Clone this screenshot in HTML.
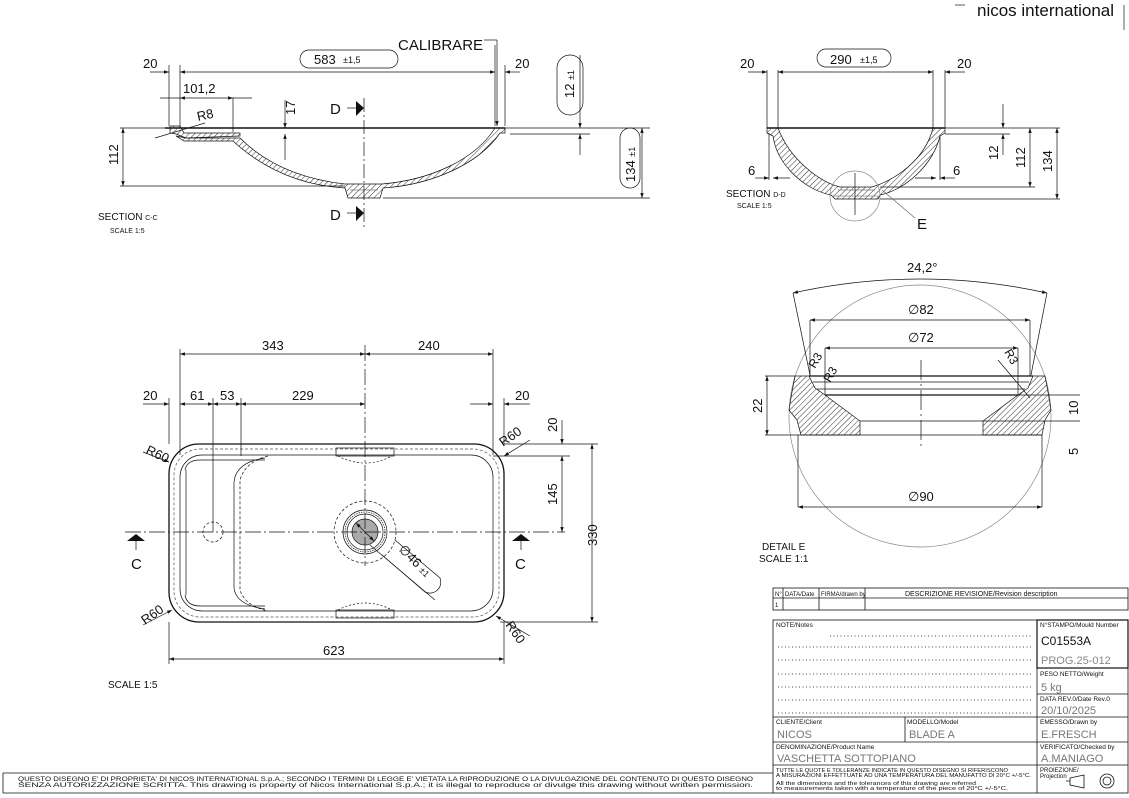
<!DOCTYPE html>
<html><head><meta charset="utf-8"><style>
html,body{margin:0;padding:0;background:#fff}
svg{display:block}
text{font-family:"Liberation Sans",sans-serif;fill:#111}
.m{font-family:"Liberation Mono",monospace;fill:#444}
</style></head><body>
<svg width="1129" height="798" viewBox="0 0 1129 798" xmlns="http://www.w3.org/2000/svg">
<defs>
<pattern id="h" width="4" height="4" patternUnits="userSpaceOnUse" patternTransform="rotate(45)"><line x1="0" y1="0" x2="0" y2="4" stroke="#333" stroke-width="1"/></pattern>
<marker id="a" viewBox="0 0 10 10" refX="10" refY="5" markerWidth="9" markerHeight="7" orient="auto-start-reverse"><path d="M0,1.5L10,5L0,8.5z" fill="#111"/></marker>
</defs>
<g stroke="#111" fill="none" stroke-width="0.8">
<line x1="955" y1="5" x2="965" y2="5" stroke="#333"/>
<line x1="1124" y1="5" x2="1124" y2="30" stroke="#333"/>
</g>
<text x="977" y="16" font-size="17" font-weight="bold" style="font-weight:500">nicos international</text>

<!-- ============ SECTION C-C ============ -->
<g stroke="#111" stroke-width="0.7" fill="none">
<line x1="165" y1="128" x2="505" y2="128" stroke-width="1.4"/>
<path d="M170,126 L180,126 L184,133 L240,133 L240,136 L186,138 L176,134 L170,133 Z" fill="url(#h)"/>
<path d="M176,136 L184,141 L233,141 C270,175 310,186 345,188 L348,198 L380,198 L383,188 C430,185 478,165 500,133 L505,133 L505,128 L495,128 C475,160 430,180 382,184 L345,184 C310,180 270,168 240,138 L186,138 Z" fill="url(#h)"/>
<line x1="350" y1="190" x2="378" y2="190" stroke="#777"/>
<line x1="169" y1="65" x2="169" y2="126"/><line x1="180" y1="65" x2="180" y2="126"/>
<line x1="495" y1="45" x2="495" y2="126"/><line x1="505" y1="65" x2="505" y2="126"/>
<line x1="150" y1="72" x2="169" y2="72" marker-end="url(#a)"/>
<line x1="180" y1="72" x2="495" y2="72" marker-start="url(#a)" marker-end="url(#a)"/>
<line x1="520" y1="72" x2="505" y2="72" marker-end="url(#a)"/>
<line x1="160" y1="98" x2="180" y2="98" /><line x1="180" y1="98" x2="233" y2="98" marker-start="url(#a)" marker-end="url(#a)"/><line x1="233" y1="98" x2="252" y2="98"/>
<line x1="233" y1="98" x2="233" y2="132"/>
<line x1="484" y1="40" x2="497" y2="40"/><line x1="497" y1="40" x2="497" y2="126" marker-end="url(#a)"/>
<line x1="285" y1="100" x2="285" y2="128" marker-end="url(#a)"/><line x1="285" y1="160" x2="285" y2="134" marker-end="url(#a)"/>
<line x1="120" y1="128" x2="165" y2="128"/><line x1="120" y1="186" x2="345" y2="186"/>
<line x1="123" y1="128" x2="123" y2="186" marker-start="url(#a)" marker-end="url(#a)"/>
<line x1="510" y1="134" x2="590" y2="134"/><line x1="383" y1="198" x2="650" y2="198"/><line x1="505" y1="128" x2="650" y2="128"/>
<line x1="580" y1="55" x2="580" y2="128" marker-end="url(#a)"/><line x1="580" y1="155" x2="580" y2="134" marker-end="url(#a)"/>
<line x1="642" y1="128" x2="642" y2="198" marker-start="url(#a)" marker-end="url(#a)"/>
<line x1="155" y1="138" x2="205" y2="123"/>
<line x1="364" y1="98" x2="364" y2="228" stroke-dasharray="14,3,2,3"/>
<rect x="300" y="50" width="98" height="18" rx="9"/>
<rect x="557" y="55" width="26" height="60" rx="13"/>
<rect x="620" y="128" width="20" height="60" rx="10"/>
</g>
<path d="M356,101 L364,108 L356,116Z M356,206 L364,213 L356,221Z" fill="#111"/>
<line x1="347" y1="108" x2="356" y2="108" stroke="#111" stroke-width="0.7"/><line x1="347" y1="213" x2="356" y2="213" stroke="#111" stroke-width="0.7"/>
<text x="398" y="50" font-size="15">CALIBRARE</text>
<text x="143" y="68" font-size="13">20</text><text x="515" y="68" font-size="13">20</text>
<text x="314" y="64" font-size="13">583</text><text x="343" y="63" font-size="9">±1,5</text>
<text x="183" y="93" font-size="13">101,2</text>
<text x="198" y="121" font-size="13" transform="rotate(-12 198 121)">R8</text>
<text x="295" y="115" font-size="13" transform="rotate(-90 295 115)">17</text>
<text x="330" y="114" font-size="15">D</text><text x="330" y="220" font-size="15">D</text>
<text x="118" y="165" font-size="13" transform="rotate(-90 118 165)">112</text>
<text x="574" y="98" font-size="13" transform="rotate(-90 574 98)">12 <tspan font-size="9">±1</tspan></text>
<text x="635" y="182" font-size="13" transform="rotate(-90 635 182)">134 <tspan font-size="9">±1</tspan></text>
<text x="98" y="220" font-size="10">SECTION <tspan font-size="7">C-C</tspan></text>
<text x="110" y="233" font-size="7">SCALE 1:5</text>

<!-- ============ SECTION D-D ============ -->
<g stroke="#111" stroke-width="0.7" fill="none">
<line x1="767" y1="128" x2="945" y2="128" stroke-width="1.4"/>
<path d="M767,128 L778,128 C790,160 820,182 840,187 L872,187 C895,180 925,160 933,128 L945,128 L945,133 L940,136 C933,165 905,190 880,195 L878,199 L835,199 L831,195 C805,190 777,165 773,136 L767,133 Z" fill="url(#h)"/>
<line x1="838" y1="190" x2="875" y2="190" stroke="#777"/>
<line x1="767" y1="70" x2="767" y2="128"/><line x1="778" y1="70" x2="778" y2="128"/><line x1="933" y1="70" x2="933" y2="128"/><line x1="945" y1="70" x2="945" y2="128"/>
<line x1="748" y1="72" x2="767" y2="72" marker-end="url(#a)"/><line x1="778" y1="72" x2="933" y2="72" marker-start="url(#a)" marker-end="url(#a)"/><line x1="965" y1="72" x2="945" y2="72" marker-end="url(#a)"/>
<rect x="817" y="49" width="74" height="18" rx="9"/>
<line x1="769" y1="133" x2="769" y2="180"/><line x1="940" y1="136" x2="940" y2="180"/>
<line x1="755" y1="178" x2="769" y2="178" marker-end="url(#a)"/><line x1="790" y1="178" x2="773" y2="178" marker-end="url(#a)"/>
<line x1="955" y1="178" x2="940" y2="178" marker-end="url(#a)"/><line x1="915" y1="178" x2="936" y2="178" marker-end="url(#a)"/>
<line x1="945" y1="128" x2="1060" y2="128"/><line x1="945" y1="134" x2="1010" y2="134"/><line x1="880" y1="187" x2="1035" y2="187"/><line x1="880" y1="199" x2="1060" y2="199"/>
<line x1="1003" y1="104" x2="1003" y2="128" marker-end="url(#a)"/><line x1="1003" y1="155" x2="1003" y2="134" marker-end="url(#a)"/>
<line x1="1030" y1="128" x2="1030" y2="187" marker-start="url(#a)" marker-end="url(#a)"/>
<line x1="1057" y1="128" x2="1057" y2="199" marker-start="url(#a)" marker-end="url(#a)"/>
<circle cx="855" cy="196" r="25" stroke="#888"/>
<line x1="855" y1="173" x2="855" y2="215"/><line x1="832" y1="196" x2="878" y2="196" stroke="#888"/>
<line x1="882" y1="190" x2="915" y2="218" stroke="#666"/>
</g>
<text x="740" y="68" font-size="13">20</text><text x="957" y="68" font-size="13">20</text>
<text x="830" y="64" font-size="13">290</text><text x="860" y="63" font-size="9">±1,5</text>
<text x="748" y="175" font-size="13">6</text><text x="953" y="175" font-size="13">6</text>
<text x="998" y="160" font-size="13" transform="rotate(-90 998 160)">12</text>
<text x="1025" y="168" font-size="13" transform="rotate(-90 1025 168)">112</text>
<text x="1052" y="172" font-size="13" transform="rotate(-90 1052 172)">134</text>
<text x="726" y="197" font-size="10">SECTION <tspan font-size="7">D-D</tspan></text>
<text x="737" y="208" font-size="7">SCALE 1:5</text>
<text x="917" y="229" font-size="15">E</text>

<!-- ============ DETAIL E ============ -->
<g stroke="#111" stroke-width="0.7" fill="none">
<circle cx="920" cy="416" r="131" stroke="#888"/>
<path d="M795,376 L809,376 L815,388 L825,395 L860,421 L860,435 L801,435 L797,420 L789,410 L792,392 Z" fill="url(#h)"/>
<path d="M1045,376 L1033,376 L1028,388 L1018,395 L983,421 L983,435 L1042,435 L1045,420 L1051,410 L1048,392 Z" fill="url(#h)"/>
<line x1="809" y1="376" x2="1033" y2="376" stroke-width="1.2"/>
<line x1="813" y1="382" x2="1029" y2="382"/><line x1="817" y1="389" x2="1025" y2="389"/>
<line x1="825" y1="395" x2="1018" y2="395" stroke-width="1.2"/>
<line x1="860" y1="421" x2="983" y2="421"/><line x1="801" y1="435" x2="1042" y2="435"/>
<line x1="921" y1="360" x2="921" y2="450" stroke-dasharray="20,4,2,4"/>
<path d="M793,293 Q920,265 1047,293" marker-start="url(#a)" marker-end="url(#a)"/>
<line x1="793" y1="293" x2="810" y2="375"/><line x1="1047" y1="293" x2="1031" y2="375"/>
<line x1="810" y1="320" x2="1030" y2="320" marker-start="url(#a)" marker-end="url(#a)"/>
<line x1="810" y1="320" x2="810" y2="376"/><line x1="1030" y1="320" x2="1030" y2="376"/>
<line x1="825" y1="348" x2="1018" y2="348" marker-start="url(#a)" marker-end="url(#a)"/>
<line x1="825" y1="348" x2="825" y2="395"/><line x1="1018" y1="348" x2="1018" y2="395"/>
<line x1="798" y1="507" x2="1042" y2="507" marker-start="url(#a)" marker-end="url(#a)"/>
<line x1="798" y1="435" x2="798" y2="507"/><line x1="1042" y1="435" x2="1042" y2="507"/>
<line x1="765" y1="376" x2="795" y2="376"/><line x1="765" y1="435" x2="801" y2="435"/>
<line x1="767" y1="376" x2="767" y2="435" marker-start="url(#a)" marker-end="url(#a)"/>
<line x1="1018" y1="395" x2="1080" y2="395"/><line x1="983" y1="421" x2="1080" y2="421"/>
<line x1="998" y1="360" x2="1030" y2="398"/>
</g>
<text x="907" y="272" font-size="13">24,2°</text>
<text x="908" y="314" font-size="13">∅82</text><text x="908" y="342" font-size="13">∅72</text>
<text x="908" y="501" font-size="13">∅90</text>
<text x="815" y="369" font-size="12" transform="rotate(-60 815 369)">R3</text>
<text x="830" y="383" font-size="12" transform="rotate(-60 830 383)">R3</text>
<text x="1004" y="352" font-size="12" transform="rotate(60 1004 352)">R3</text>
<text x="762" y="413" font-size="13" transform="rotate(-90 762 413)">22</text>
<text x="1078" y="415" font-size="13" transform="rotate(-90 1078 415)">10</text>
<text x="1078" y="455" font-size="13" transform="rotate(-90 1078 455)">5</text>
<text x="762" y="550" font-size="10">DETAIL E</text><text x="759" y="562" font-size="10">SCALE 1:1</text>

<!-- ============ PLAN ============ -->
<g stroke="#111" stroke-width="0.7" fill="none">
<rect x="169" y="444" width="335" height="178" rx="30" stroke-width="1.3"/>
<rect x="174" y="449" width="325" height="168" rx="26" stroke-dasharray="3,2" stroke="#555"/>
<rect x="180" y="455" width="313" height="156" rx="22"/>
<path d="M268,456 Q245,462 240,480 L240,590 Q245,606 268,611" stroke-dasharray="3,2"/>
<path d="M265,458 Q236,462 234,482 L234,588 Q236,605 265,609"/>
<path d="M185,470 Q187,460 200,460 L265,460"/><path d="M185,595 Q187,606 200,606 L265,606"/>
<line x1="186" y1="470" x2="186" y2="595"/>
<rect x="336" y="448" width="58" height="8"/><rect x="336" y="610" width="58" height="8"/>
<path d="M338,456 Q365,470 392,456" stroke-dasharray="2,2"/><path d="M338,610 Q365,596 392,610" stroke-dasharray="2,2"/>
<circle cx="213" cy="532" r="10" stroke-dasharray="3,2"/>
<circle cx="365" cy="532" r="31" stroke-dasharray="3,2"/>
<circle cx="365" cy="532" r="22"/><circle cx="365" cy="532" r="20" stroke-dasharray="1.5,1"/><circle cx="365" cy="532" r="18"/>
<circle cx="365" cy="532" r="13" fill="#aaa"/>
<line x1="356" y1="523" x2="374" y2="541" marker-start="url(#a)" marker-end="url(#a)"/>
<line x1="370" y1="545" x2="435" y2="600"/>
<path d="M395,540 L440,578 A11,11 0 0 1 425,592 L382,555" />
<line x1="125" y1="532" x2="565" y2="532" stroke-dasharray="16,3,2,3"/>
<line x1="365" y1="345" x2="365" y2="566" stroke-dasharray="16,3,2,3"/>
<line x1="180" y1="349" x2="180" y2="455"/><line x1="493" y1="349" x2="493" y2="455"/>
<line x1="169" y1="398" x2="169" y2="444"/><line x1="213" y1="398" x2="213" y2="532"/><line x1="241" y1="398" x2="241" y2="456"/><line x1="504" y1="398" x2="504" y2="444"/>
<line x1="180" y1="354" x2="365" y2="354" marker-start="url(#a)" marker-end="url(#a)"/>
<line x1="365" y1="354" x2="493" y2="354" marker-start="url(#a)" marker-end="url(#a)"/>
<line x1="143" y1="404" x2="169" y2="404" marker-end="url(#a)"/>
<line x1="180" y1="404" x2="213" y2="404" marker-start="url(#a)" marker-end="url(#a)"/>
<line x1="213" y1="404" x2="241" y2="404" marker-start="url(#a)" marker-end="url(#a)"/>
<line x1="241" y1="404" x2="365" y2="404" marker-start="url(#a)" marker-end="url(#a)"/>
<line x1="470" y1="404" x2="493" y2="404" marker-end="url(#a)"/>
<line x1="530" y1="404" x2="504" y2="404" marker-end="url(#a)"/>
<line x1="169" y1="622" x2="169" y2="664"/><line x1="504" y1="622" x2="504" y2="664"/>
<line x1="169" y1="659" x2="504" y2="659" marker-start="url(#a)" marker-end="url(#a)"/>
<line x1="504" y1="444" x2="598" y2="444"/><line x1="493" y1="456" x2="570" y2="456"/><line x1="500" y1="622" x2="598" y2="622"/>
<line x1="592" y1="444" x2="592" y2="622" marker-start="url(#a)" marker-end="url(#a)"/>
<line x1="562" y1="456" x2="562" y2="532" marker-start="url(#a)" marker-end="url(#a)"/>
<line x1="562" y1="420" x2="562" y2="444" marker-end="url(#a)"/>
<line x1="143" y1="452" x2="169" y2="462" marker-end="url(#a)"/>
<line x1="530" y1="440" x2="504" y2="456" marker-end="url(#a)"/>
<line x1="143" y1="625" x2="172" y2="610" marker-end="url(#a)"/>
<line x1="530" y1="636" x2="496" y2="616" marker-end="url(#a)"/>
<line x1="136" y1="541" x2="136" y2="550"/><line x1="521" y1="541" x2="521" y2="550"/>
</g>
<path d="M127,541 L136,534 L145,541Z M512,541 L521,534 L530,541Z" fill="#111"/>
<text x="262" y="350" font-size="13">343</text><text x="418" y="350" font-size="13">240</text>
<text x="143" y="400" font-size="13">20</text><text x="190" y="400" font-size="13">61</text><text x="220" y="400" font-size="13">53</text>
<text x="292" y="400" font-size="13">229</text><text x="515" y="400" font-size="13">20</text>
<text x="145" y="453" font-size="13" transform="rotate(25 145 453)">R60</text>
<text x="503" y="447" font-size="13" transform="rotate(-35 503 447)">R60</text>
<text x="145" y="625" font-size="13" transform="rotate(-35 145 625)">R60</text>
<text x="505" y="625" font-size="13" transform="rotate(55 505 625)">R60</text>
<text x="557" y="432" font-size="13" transform="rotate(-90 557 432)">20</text>
<text x="557" y="505" font-size="13" transform="rotate(-90 557 505)">145</text>
<text x="597" y="546" font-size="13" transform="rotate(-90 597 546)">330</text>
<text x="398" y="550" font-size="13" transform="rotate(45 398 550)">∅46 <tspan font-size="9">±1</tspan></text>
<text x="131" y="569" font-size="15">C</text><text x="515" y="569" font-size="15">C</text>
<text x="323" y="655" font-size="13">623</text>
<text x="108" y="688" font-size="10">SCALE 1:5</text>

<!-- ============ TITLE BLOCK ============ -->
<g stroke="#111" stroke-width="0.8" fill="none">
<rect x="773" y="588" width="355" height="22"/>
<line x1="773" y1="598" x2="1128" y2="598"/>
<line x1="783" y1="588" x2="783" y2="610"/><line x1="819" y1="588" x2="819" y2="610"/><line x1="865" y1="588" x2="865" y2="610"/>
<rect x="773" y="620" width="355" height="173"/>
<rect x="1037" y="620" width="91" height="48" stroke-width="1.2"/>
<line x1="1037" y1="668" x2="1037" y2="793"/>
<line x1="1037" y1="694" x2="1128" y2="694"/>
<line x1="773" y1="717" x2="1128" y2="717"/>
<line x1="773" y1="742" x2="1128" y2="742"/>
<line x1="773" y1="765" x2="1128" y2="765"/>
<line x1="905" y1="717" x2="905" y2="742"/>
<line x1="3" y1="773" x2="773" y2="773"/>
<line x1="3" y1="773" x2="3" y2="793"/><line x1="3" y1="793" x2="773" y2="793"/>
<path d="M1070,778 L1084,775 L1084,788 L1070,785Z M1066,781 L1070,781"/>
<circle cx="1107" cy="781" r="7"/><circle cx="1107" cy="781" r="4"/>
</g>
<g stroke="#444" stroke-width="1" stroke-dasharray="1,2.5">
<line x1="830" y1="636" x2="1032" y2="636"/><line x1="778" y1="647" x2="1032" y2="647"/><line x1="778" y1="660" x2="1032" y2="660"/>
<line x1="778" y1="674" x2="1032" y2="674"/><line x1="778" y1="687" x2="1032" y2="687"/><line x1="778" y1="700" x2="1032" y2="700"/><line x1="778" y1="713" x2="1032" y2="713"/>
</g>
<g class="m" font-size="6">
<text x="775" y="596">N°</text><text x="785" y="596">DATA/Date</text><text x="821" y="596">FIRMA/drawn by</text>
<text x="905" y="596" font-size="7">DESCRIZIONE REVISIONE/Revision description</text>
<text x="775" y="607">1</text>
<text x="776" y="627" font-size="6.5">NOTE/Notes</text>
<text x="1040" y="627" font-size="6.5">N°STAMPO/Mould Number</text>
<text x="1040" y="676" font-size="6.5">PESO NETTO/Weight</text>
<text x="1040" y="701" font-size="6.5">DATA REV.0/Date Rev.0</text>
<text x="1040" y="724" font-size="6.5">EMESSO/Drawn by</text>
<text x="776" y="724" font-size="6.5">CLIENTE/Client</text>
<text x="907" y="724" font-size="6.5">MODELLO/Model</text>
<text x="776" y="749" font-size="6.5">DENOMINAZIONE/Product Name</text>
<text x="1040" y="749" font-size="6.5">VERIFICATO/Checked by</text>
<text x="1040" y="772" font-size="6">PROIEZIONE/</text><text x="1040" y="778" font-size="6">Projection</text>
<text x="776" y="772" font-size="5.5" textLength="232" lengthAdjust="spacingAndGlyphs">TUTTE LE QUOTE E TOLLERANZE INDICATE IN QUESTO DISEGNO SI RIFERISCONO</text>
<text x="776" y="777" font-size="5.5" textLength="255" lengthAdjust="spacingAndGlyphs">A MISURAZIONI EFFETTUATE AD UNA TEMPERATURA DEL MANUFATTO DI 20°C +/-5°C.</text>
<text x="776" y="785" font-size="5.5" textLength="200" lengthAdjust="spacingAndGlyphs">All the dimensions and the tolerances of this drawing are referred</text>
<text x="776" y="790" font-size="5.5" textLength="232" lengthAdjust="spacingAndGlyphs">to measurements taken with a temperature of the piece of 20°C +/-5°C.</text>
<text x="18" y="781" font-size="6" textLength="735" lengthAdjust="spacingAndGlyphs">QUESTO DISEGNO E' DI PROPRIETA' DI NICOS INTERNATIONAL S.p.A.; SECONDO I TERMINI DI LEGGE E' VIETATA LA RIPRODUZIONE O LA DIVULGAZIONE DEL CONTENUTO DI QUESTO DISEGNO</text>
<text x="18" y="787" font-size="6" textLength="735" lengthAdjust="spacingAndGlyphs">SENZA AUTORIZZAZIONE SCRITTA. This drawing is property of Nicos International S.p.A.; it is illegal to reproduce or divulge this drawing without written permission.</text>
</g>
<g class="m" font-size="11">
<text x="1041" y="645" font-size="12" style="fill:#111">C01553A</text>
<text x="1041" y="664" style="fill:#888">PROG.25-012</text>
<text x="1041" y="691" style="fill:#777">5 kg</text>
<text x="1041" y="714" style="fill:#777">20/10/2025</text>
<text x="777" y="738" style="fill:#777">NICOS</text>
<text x="909" y="738" style="fill:#777">BLADE A</text>
<text x="1041" y="738" style="fill:#777">E.FRESCH</text>
<text x="777" y="762" style="fill:#777">VASCHETTA SOTTOPIANO</text>
<text x="1041" y="762" style="fill:#777">A.MANIAGO</text>
</g>
</svg>
</body></html>
